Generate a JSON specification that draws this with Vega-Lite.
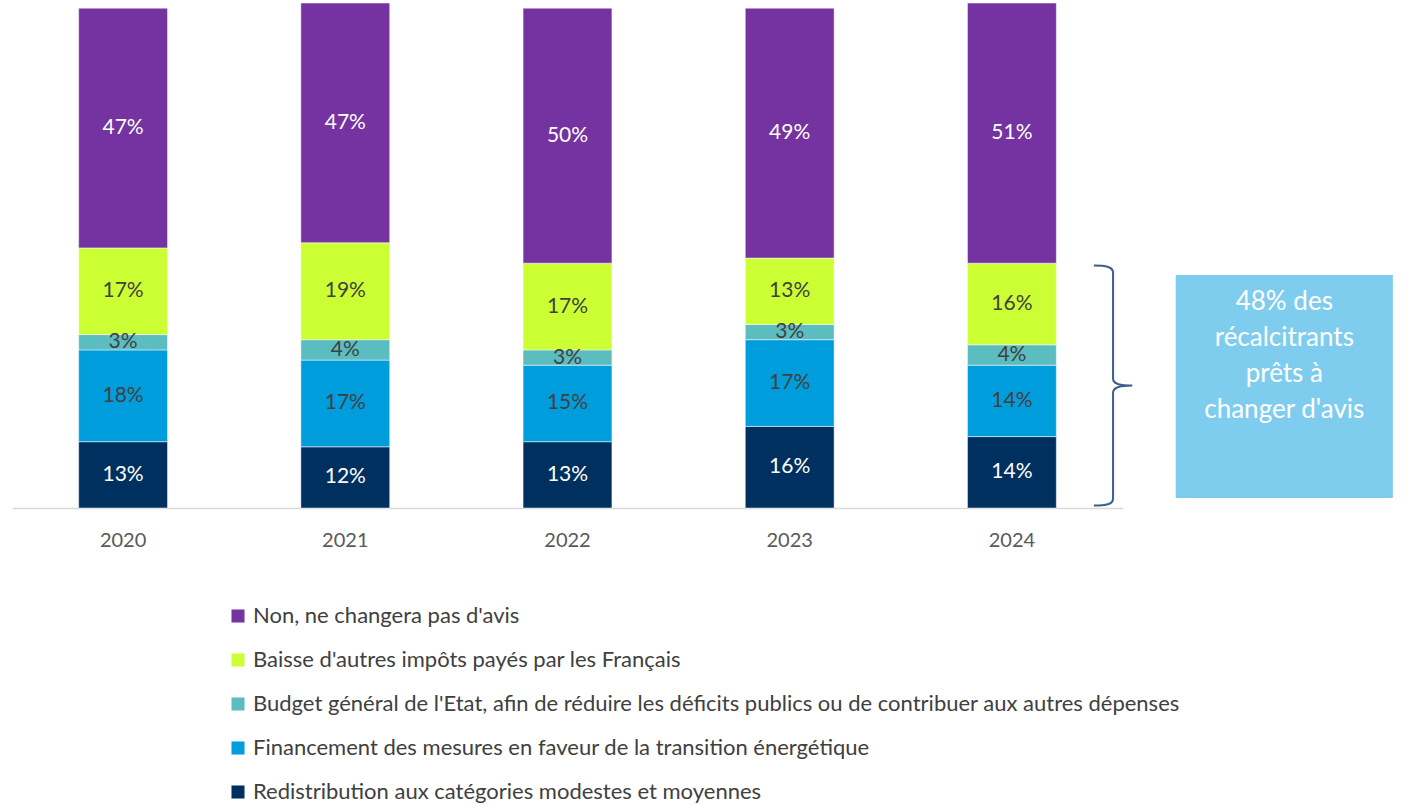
{
  "$schema": "https://vega.github.io/schema/vega-lite/v6.json",
  "width": 1392,
  "height": 508,
  "padding": {"left": 12, "top": 0, "right": 0, "bottom": 0},
  "config": {"view": {"stroke": null}, "font": "Lato"},
  "layer": [
    {
      "data": {
        "values": [
          {"year": "2020", "cat": "Redistribution aux catégories modestes et moyennes", "ord": 1, "value": 0.13},
          {"year": "2020", "cat": "Financement des mesures en faveur de la transition énergétique", "ord": 2, "value": 0.18},
          {"year": "2020", "cat": "Budget général de l'Etat, afin de réduire les déficits publics ou de contribuer aux autres dépenses", "ord": 3, "value": 0.03},
          {"year": "2020", "cat": "Baisse d'autres impôts payés par les Français", "ord": 4, "value": 0.17},
          {"year": "2020", "cat": "Non, ne changera pas d'avis", "ord": 5, "value": 0.47},
          {"year": "2021", "cat": "Redistribution aux catégories modestes et moyennes", "ord": 1, "value": 0.12},
          {"year": "2021", "cat": "Financement des mesures en faveur de la transition énergétique", "ord": 2, "value": 0.17},
          {"year": "2021", "cat": "Budget général de l'Etat, afin de réduire les déficits publics ou de contribuer aux autres dépenses", "ord": 3, "value": 0.04},
          {"year": "2021", "cat": "Baisse d'autres impôts payés par les Français", "ord": 4, "value": 0.19},
          {"year": "2021", "cat": "Non, ne changera pas d'avis", "ord": 5, "value": 0.47},
          {"year": "2022", "cat": "Redistribution aux catégories modestes et moyennes", "ord": 1, "value": 0.13},
          {"year": "2022", "cat": "Financement des mesures en faveur de la transition énergétique", "ord": 2, "value": 0.15},
          {"year": "2022", "cat": "Budget général de l'Etat, afin de réduire les déficits publics ou de contribuer aux autres dépenses", "ord": 3, "value": 0.03},
          {"year": "2022", "cat": "Baisse d'autres impôts payés par les Français", "ord": 4, "value": 0.17},
          {"year": "2022", "cat": "Non, ne changera pas d'avis", "ord": 5, "value": 0.50},
          {"year": "2023", "cat": "Redistribution aux catégories modestes et moyennes", "ord": 1, "value": 0.16},
          {"year": "2023", "cat": "Financement des mesures en faveur de la transition énergétique", "ord": 2, "value": 0.17},
          {"year": "2023", "cat": "Budget général de l'Etat, afin de réduire les déficits publics ou de contribuer aux autres dépenses", "ord": 3, "value": 0.03},
          {"year": "2023", "cat": "Baisse d'autres impôts payés par les Français", "ord": 4, "value": 0.13},
          {"year": "2023", "cat": "Non, ne changera pas d'avis", "ord": 5, "value": 0.49},
          {"year": "2024", "cat": "Redistribution aux catégories modestes et moyennes", "ord": 1, "value": 0.14},
          {"year": "2024", "cat": "Financement des mesures en faveur de la transition énergétique", "ord": 2, "value": 0.14},
          {"year": "2024", "cat": "Budget général de l'Etat, afin de réduire les déficits publics ou de contribuer aux autres dépenses", "ord": 3, "value": 0.04},
          {"year": "2024", "cat": "Baisse d'autres impôts payés par les Français", "ord": 4, "value": 0.16},
          {"year": "2024", "cat": "Non, ne changera pas d'avis", "ord": 5, "value": 0.51}
        ]
      },
      "encoding": {
        "x": {
          "field": "year", "type": "ordinal",
          "scale": {"range": [0, 1111], "paddingInner": 0.6, "paddingOuter": 0.3},
          "axis": {"title": null, "labelAngle": 0, "labelFontSize": 20, "labelColor": "#595959", "labelPadding": 22, "ticks": false, "tickSize": 0, "domainColor": "#D9D9D9", "domainWidth": 1.5, "grid": false, "labelFont": "Lato"}
        },
        "y": {
          "field": "value", "type": "quantitative", "stack": "zero",
          "scale": {"domain": [0, 0.996], "nice": false, "zero": true},
          "axis": null
        },
        "order": {"field": "ord", "type": "quantitative"}
      },
      "layer": [
        {
          "mark": {"type": "bar", "stroke": "white", "strokeWidth": 0.5},
          "encoding": {
            "color": {
              "field": "cat", "type": "nominal",
              "scale": {
                "domain": ["Non, ne changera pas d'avis", "Baisse d'autres impôts payés par les Français", "Budget général de l'Etat, afin de réduire les déficits publics ou de contribuer aux autres dépenses", "Financement des mesures en faveur de la transition énergétique", "Redistribution aux catégories modestes et moyennes"],
                "range": ["#7433A0", "#CCFF33", "#5BBDC0", "#009DDC", "#003060"]
              },
              "legend": {
                "title": null, "orient": "none", "legendX": 215, "legendY": 605, "direction": "vertical",
                "symbolType": "square", "symbolSize": 170, "symbolStrokeWidth": 0,
                "labelFontSize": 22, "labelColor": "#404040", "labelFont": "Lato", "labelLimit": 1300,
                "rowPadding": 22, "labelOffset": 4, "padding": 0
              }
            }
          }
        },
        {
          "mark": {"type": "text", "fontSize": 21, "font": "Lato", "align": "center", "baseline": "middle"},
          "encoding": {
            "y": {"field": "value", "type": "quantitative", "stack": "zero", "bandPosition": 0.5},
            "text": {"field": "value", "type": "quantitative", "format": ".0%"},
            "color": {"condition": {"test": "datum.ord == 1 || datum.ord == 5", "value": "white"}, "value": "#404040"}
          }
        }
      ]
    },
    {
      "layer": [
        {
          "data": {"values": [{"pos": 79.1, "mid": 0.24}]},
          "mark": {
            "type": "point", "filled": false, "color": "#3B5E8C", "strokeWidth": 2, "opacity": 1, "size": 57600,
            "shape": "M -0.16 -1 C -0.06 -1 0 -0.99 0 -0.94 L 0 -0.06 C 0 -0.02 0.04 0 0.16 0 C 0.04 0 0 0.02 0 0.06 L 0 0.94 C 0 0.99 -0.06 1 -0.16 1"
          },
          "encoding": {
            "x": {"field": "pos", "type": "quantitative", "scale": {"domain": [0, 100], "nice": false}, "axis": null},
            "y": {"field": "mid", "type": "quantitative", "axis": null}
          }
        },
        {
          "data": {"values": [{"x1": 83.6, "x2": 99.2, "y1": 0.0196, "y2": 0.457}]},
          "mark": {"type": "rect", "color": "#7FCDEE"},
          "encoding": {
            "x": {"field": "x1", "type": "quantitative", "scale": {"domain": [0, 100], "nice": false}, "axis": null},
            "x2": {"field": "x2"},
            "y": {"field": "y1", "type": "quantitative", "axis": null},
            "y2": {"field": "y2"}
          }
        },
        {
          "data": {"values": [{"pos": 91.4, "mid": 0.404, "label": ["48% des", "récalcitrants", "prêts à", "changer d'avis"]}]},
          "mark": {"type": "text", "color": "white", "fontSize": 26, "font": "Lato", "lineHeight": 36, "align": "center", "baseline": "middle"},
          "encoding": {
            "x": {"field": "pos", "type": "quantitative", "scale": {"domain": [0, 100], "nice": false}, "axis": null},
            "y": {"field": "mid", "type": "quantitative", "axis": null},
            "text": {"field": "label"}
          }
        }
      ]
    }
  ],
  "resolve": {"scale": {"x": "independent"}}
}
